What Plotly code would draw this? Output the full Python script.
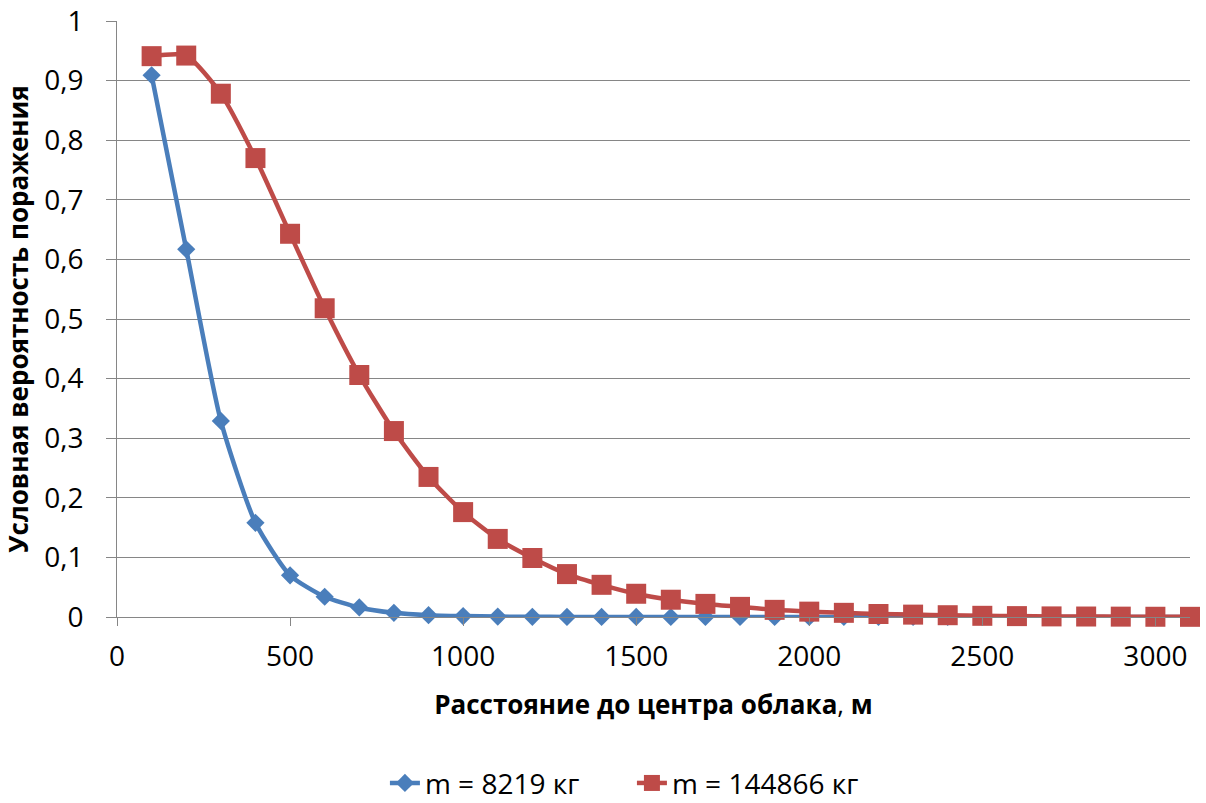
import plotly.graph_objects as go

distance = [100, 200, 300, 400, 500, 600, 700, 800, 900, 1000,
            1100, 1200, 1300, 1400, 1500, 1600, 1700, 1800, 1900, 2000,
            2100, 2200, 2300, 2400, 2500, 2600, 2700, 2800, 2900, 3000, 3100]

p_small = [0.909, 0.617, 0.329, 0.158, 0.070, 0.034, 0.016, 0.007, 0.003, 0.0015,
           0.0007, 0.0003, 0.0002, 0.0001, 0.0001, 0.0, 0.0, 0.0, 0.0, 0.0,
           0.0, 0.0, 0.0, 0.0, 0.0, 0.0, 0.0, 0.0, 0.0, 0.0, 0.0]

p_large = [0.941, 0.942, 0.878, 0.770, 0.643, 0.518, 0.406, 0.312, 0.235, 0.176,
           0.131, 0.099, 0.072, 0.054, 0.039, 0.029, 0.022, 0.017, 0.012, 0.009,
           0.007, 0.005, 0.004, 0.003, 0.002, 0.0015, 0.001, 0.0008, 0.0006, 0.0004, 0.0003]

name_small = "m = 8219 кг"
name_large = "m = 144866 кг"
x_title = "<b>Расстояние до центра облака</b>, <b>м</b>"
y_title = "<b>Условная вероятность поражения</b>"

blue = "#4A7EBB"
red = "#BE4B48"
grid = "#868686"
font = "Open Sans"

fig = go.Figure()
fig.add_trace(go.Scatter(
    x=distance, y=p_small, name=name_small, mode="lines+markers",
    line=dict(color=blue, width=4.5, shape="spline", smoothing=0.6),
    marker=dict(symbol="diamond", size=14, color=blue),
    cliponaxis=False))
fig.add_trace(go.Scatter(
    x=distance, y=p_large, name=name_large, mode="lines+markers",
    line=dict(color=red, width=4.5, shape="spline", smoothing=0.6),
    marker=dict(symbol="square", size=20, color=red),
    cliponaxis=False))

fig.update_layout(
    width=1206, height=803,
    margin=dict(l=117, r=16, t=21, b=186, autoexpand=False),
    paper_bgcolor="white", plot_bgcolor="white",
    separators=", ",
    font=dict(family=font, color="black", size=28),
    showlegend=True,
    legend=dict(orientation="h", x=0.2497, xanchor="left", y=-0.237, yanchor="top",
                entrywidth=202, entrywidthmode="pixels",
                font=dict(size=28, family=font), traceorder="normal"),
)
fig.update_xaxes(
    range=[0, 3100], tickmode="linear", tick0=0, dtick=500,
    showgrid=False, zeroline=False, automargin=False,
    showline=True, linecolor=grid, linewidth=1,
    ticks="outside", ticklen=8, tickcolor=grid,
    tickfont=dict(size=28, family=font),
    ticklabelstandoff=6,
    title=dict(text=x_title, font=dict(size=26, family=font), standoff=23),
)
fig.update_yaxes(
    range=[0, 1], tickmode="linear", tick0=0, dtick=0.1,
    showgrid=True, gridcolor=grid, gridwidth=1, zeroline=False, automargin=False,
    showline=True, linecolor=grid, linewidth=1,
    ticks="outside", ticklen=10, tickcolor=grid,
    tickfont=dict(size=28, family=font),
    ticklabelstandoff=17,
    title=dict(text=y_title, font=dict(size=26, family=font), standoff=8),
)

fig.write_html("out.html", config={"displayModeBar": False},
               post_script="document.body.style.margin='0';document.body.style.overflow='hidden';")
